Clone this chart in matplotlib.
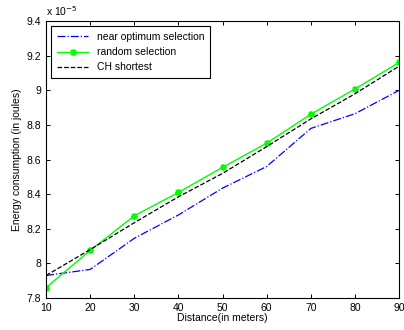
import numpy as np
import matplotlib.pyplot as plt
from matplotlib.ticker import FuncFormatter

# dados (em unidades de 1e-5 J)
distancia = [10, 20, 30, 40, 50, 60, 70, 80, 90]
near_optimum = [7.93, 7.965, 8.145, 8.28, 8.435, 8.56, 8.78, 8.865, 9.0]
random_sel = [7.86, 8.075, 8.275, 8.41, 8.555, 8.695, 8.862, 9.008, 9.161]
ch_shortest = [7.93, 8.08, 8.235, 8.385, 8.52, 8.675, 8.835, 8.98, 9.14]

plt.rcParams['font.family'] = ['Liberation Sans', 'DejaVu Sans']
fig = plt.figure(figsize=(4.04, 3.30), dpi=100)
ax = fig.add_axes([0.114, 0.097, 0.874, 0.839])

ax.plot(distancia, near_optimum, '-.', color='#0000ff', lw=0.9, label='near optimum selection')
ax.plot(distancia, random_sel, '-', color='#00ff00', lw=1.0, marker=(8, 2, 0), ms=5,
        mew=1.0, mec='#00ff00', label='random selection')
ax.plot(distancia, ch_shortest, '--', color='black', lw=0.9, label='CH shortest')

ax.set_xlim(10, 90)
ax.set_ylim(7.8, 9.4)
ax.set_xticks(np.arange(10, 91, 10))
ax.set_yticks(np.arange(7.8, 9.41, 0.2))
ax.yaxis.set_major_formatter(FuncFormatter(lambda v, p: f'{v:g}'))
ax.tick_params(direction='in', top=True, right=True, labelsize=7.5, length=3, width=0.7)
for s in ax.spines.values():
    s.set_linewidth(0.8)

ax.set_xlabel('Distance(in meters)', fontsize=7.5, labelpad=0)
ax.set_ylabel('Energy consumption (in joules)', fontsize=7.5, labelpad=3)
ax.text(0.0, 1.01, r'x 10$^{-5}$', transform=ax.transAxes, fontsize=7.5, va='bottom', ha='left')

leg = ax.legend(loc='upper left', fontsize=7.5, fancybox=False, framealpha=1,
                edgecolor='black', handlelength=3, borderaxespad=0.5,
                labelspacing=0.5, borderpad=0.55)
leg.get_frame().set_linewidth(0.8)

fig.savefig('out.png', dpi=100)
